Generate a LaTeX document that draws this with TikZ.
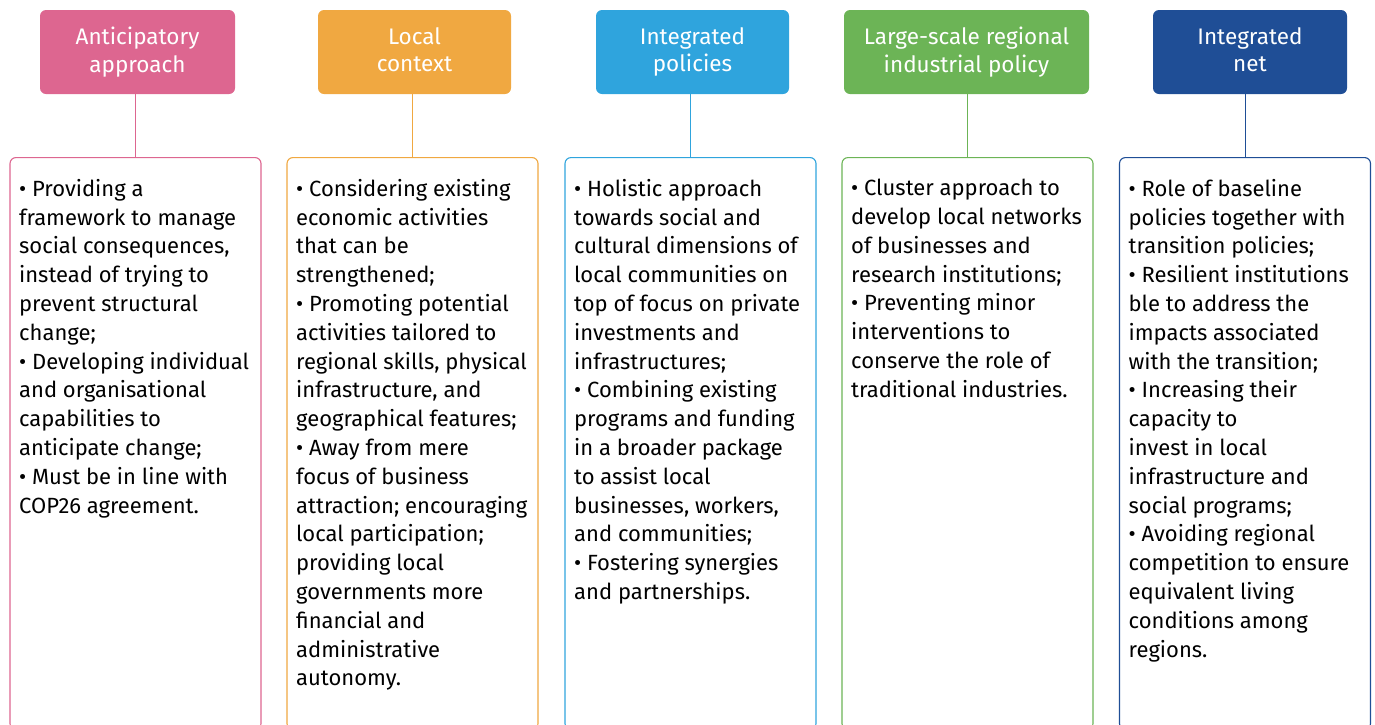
\documentclass[tikz,border=0pt]{standalone}
\usepackage{fontspec}
\setmainfont{Fira Sans}
\usetikzlibrary{positioning}
\definecolor{cpink}{HTML}{DD6690}
\definecolor{corange}{HTML}{F0A841}
\definecolor{cblue}{HTML}{2FA4DD}
\definecolor{cgreen}{HTML}{6CB456}
\definecolor{cnavy}{HTML}{1F4E96}
\newcommand{\bodyfont}{\fontsize{22}{28.8}\selectfont}
\newcommand{\hstrut}{\vphantom{Ayp}}
\begin{document}
\begin{tikzpicture}[x=1pt,y=-1pt,
  head/.style={fill=#1,draw=none,rounded corners=6pt,text=white,align=center,
    minimum height=84pt,inner sep=0pt,font=\fontsize{22.5}{27.5}\selectfont},
  panel/.style={draw=#1,line width=1.1pt,rounded corners=6pt,minimum height=572pt,
    minimum width=251pt,anchor=north,inner sep=0pt},
  bullets/.style={anchor=north west,align=left,inner sep=0pt,font=\bodyfont},
  link/.style={draw=#1,line width=0.9pt}]
\useasboundingbox (0,0) rectangle (1375,724);
\clip (0,0) rectangle (1375,724);
% headers
\node[head=cpink,minimum width=195pt] (h1) at (137.5,52) {\hstrut Anticipatory\\\hstrut approach};
\node[head=corange,minimum width=193pt] (h2) at (414.5,52) {\hstrut Local\\\hstrut context};
\node[head=cblue,minimum width=193pt] (h3) at (692.5,52) {\hstrut Integrated\\\hstrut policies};
\node[head=cgreen,minimum width=245pt] (h4) at (966.5,52) {\hstrut Large-scale regional\\\hstrut industrial policy};
\node[head=cnavy,minimum width=194pt] (h5) at (1250,52) {\hstrut Integrated\\\hstrut net};
% panels
\node[panel=cpink] (b1) at (135.5,157) {};
\node[panel=corange] (b2) at (412.5,157) {};
\node[panel=cblue] (b3) at (690.5,157) {};
\node[panel=cgreen] (b4) at (967.5,157) {};
\node[panel=cnavy] (b5) at (1245,157) {};
% links
\draw[link=cpink] (h1.south -| b1.north) -- (b1.north);
\draw[link=corange] (h2.south -| b2.north) -- (b2.north);
\draw[link=cblue] (h3.south -| b3.north) -- (b3.north);
\draw[link=cgreen] (h4.south -| b4.north) -- (b4.north);
\draw[link=cnavy] (h5.south -| b5.north) -- (b5.north);
% texts
\node[bullets] (t1) at ([xshift=9.5pt,yshift=-22pt]b1.north west) {%
  • Providing a\\framework to manage\\social consequences,\\instead of trying to\\
  prevent structural\\change;\\• Developing individual\\and organisational\\
  capabilities to\\anticipate change;\\• Must be in line with\\COP26 agreement.};
\node[bullets] (t2) at ([xshift=9.5pt,yshift=-22pt]b2.north west) {%
  • Considering existing\\economic activities\\that can be\\strengthened;\\
  • Promoting potential\\activities tailored to\\regional skills, physical\\
  infrastructure, and\\geographical features;\\• Away from mere\\
  focus of business\\attraction; encouraging\\local participation;\\
  providing local\\governments more\\financial and\\administrative\\autonomy.};
\node[bullets] (t3) at ([xshift=9.5pt,yshift=-22pt]b3.north west) {%
  • Holistic approach\\towards social and\\cultural dimensions of\\
  local communities on\\top of focus on private\\investments and\\
  infrastructures;\\• Combining existing\\programs and funding\\
  in a broader package\\to assist local\\businesses, workers,\\
  and communities;\\• Fostering synergies\\and partnerships.};
\node[bullets] (t4) at ([xshift=9.5pt,yshift=-22pt]b4.north west) {%
  • Cluster approach to\\develop local networks\\of businesses and\\
  research institutions;\\• Preventing minor\\interventions to\\
  conserve the role of\\traditional industries.};
\node[bullets] (t5) at ([xshift=9.5pt,yshift=-22pt]b5.north west) {%
  • Role of baseline\\policies together with\\transition policies;\\
  • Resilient institutions\\ble to address the\\impacts associated\\
  with the transition;\\• Increasing their\\capacity to\\invest in local\\
  infrastructure and\\social programs;\\• Avoiding regional\\
  competition to ensure\\equivalent living\\conditions among\\regions.};
\end{tikzpicture}
\end{document}
